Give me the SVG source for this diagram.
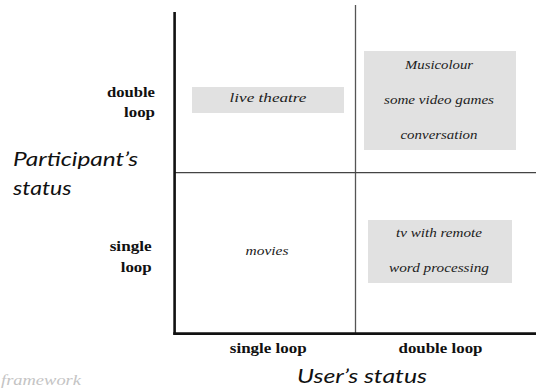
<svg xmlns="http://www.w3.org/2000/svg" width="536" height="390" viewBox="0 0 536 390">
<style>
.it{font-family:"Liberation Serif","Times New Roman",serif;font-style:italic;font-size:13.5px;fill:#222;text-anchor:middle}
.bd{font-family:"Liberation Serif","Times New Roman",serif;font-weight:bold;font-size:15px;fill:#111}
.ax{font-family:Lato,"Open Sans",sans-serif;font-style:italic;font-size:20px;fill:#111}
.box{fill:#e1e1e1}
</style>
<rect width="536" height="390" fill="#fff"/>
<g id="connectors">
<line x1="355.5" y1="5" x2="355.5" y2="333" stroke="#555" stroke-width="1.3"/>
<line x1="175" y1="172.7" x2="536" y2="172.7" stroke="#444" stroke-width="1.3"/>
<line x1="174.6" y1="12" x2="174.6" y2="334.8" stroke="#111" stroke-width="2.6"/>
<line x1="173.3" y1="333.6" x2="536" y2="333.6" stroke="#111" stroke-width="2.6"/>
</g>
<g id="live-theatre">
<rect class="box" x="192" y="87" width="152" height="26"/>
<text class="it" x="268" y="102" textLength="77" lengthAdjust="spacingAndGlyphs">live theatre</text>
</g>
<g id="double-double">
<rect class="box" x="364" y="51" width="152" height="99"/>
<text class="it" x="439" y="69" textLength="68" lengthAdjust="spacingAndGlyphs">Musicolour</text>
<text class="it" x="439" y="103.5" textLength="110" lengthAdjust="spacingAndGlyphs">some video games</text>
<text class="it" x="439" y="138.5" textLength="77" lengthAdjust="spacingAndGlyphs">conversation</text>
</g>
<g id="movies">
<text class="it" x="267" y="255" textLength="43" lengthAdjust="spacingAndGlyphs">movies</text>
</g>
<g id="single-double">
<rect class="box" x="368" y="220" width="144" height="63"/>
<text class="it" x="439" y="237" textLength="86" lengthAdjust="spacingAndGlyphs">tv with remote</text>
<text class="it" x="439" y="272" textLength="100" lengthAdjust="spacingAndGlyphs">word processing</text>
</g>
<g id="labels">
<text class="bd" x="155" y="97.3" text-anchor="end" textLength="48" lengthAdjust="spacingAndGlyphs">double</text>
<text class="bd" x="155" y="117" text-anchor="end" textLength="31" lengthAdjust="spacingAndGlyphs">loop</text>
<text class="bd" x="151.7" y="251" text-anchor="end" textLength="42" lengthAdjust="spacingAndGlyphs">single</text>
<text class="bd" x="151.7" y="272" text-anchor="end" textLength="31" lengthAdjust="spacingAndGlyphs">loop</text>
<text class="bd" x="268.3" y="353" text-anchor="middle" textLength="77" lengthAdjust="spacingAndGlyphs">single loop</text>
<text class="bd" x="440.5" y="352.5" text-anchor="middle" textLength="84" lengthAdjust="spacingAndGlyphs">double loop</text>
<text class="ax" x="13" y="165.7" textLength="125" lengthAdjust="spacingAndGlyphs">Participant’s</text>
<text class="ax" x="13" y="194.5" textLength="58.5" lengthAdjust="spacingAndGlyphs">status</text>
<text class="ax" x="297" y="383" textLength="130" lengthAdjust="spacingAndGlyphs">User’s status</text>
<text x="1" y="385" font-family="'Liberation Serif','Times New Roman',serif" font-style="italic" font-size="14" fill="#c4c4c4" textLength="80" lengthAdjust="spacingAndGlyphs">framework</text>
</g>
</svg>
